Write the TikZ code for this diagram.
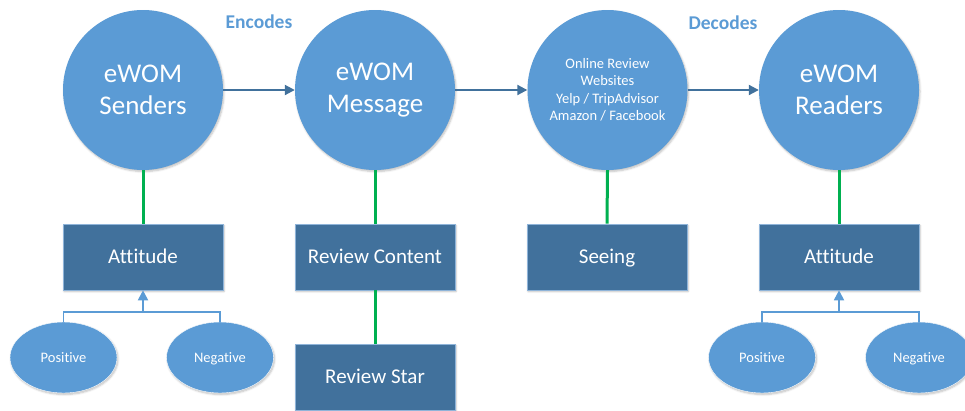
\documentclass[tikz,border=0pt]{standalone}
\usepackage{fontspec}
\setmainfont[Ligatures=NoCommon]{Carlito}
\usetikzlibrary{arrows.meta,shadows.blur,shapes.geometric}
\definecolor{circblue}{HTML}{5B9BD5}
\definecolor{boxblue}{HTML}{41719C}
\definecolor{arrblue}{HTML}{41719C}
\definecolor{grn}{HTML}{00B050}
\definecolor{edgeblue}{HTML}{8FB4D9}
\begin{document}
\begin{tikzpicture}[x=1pt,y=-1pt,
  bigcirc/.style={circle,fill=circblue,inner sep=0pt,minimum size=160pt,text=white,align=center,
    font=\fontsize{27}{32}\selectfont,blur shadow={shadow blur steps=5,shadow xshift=1pt,shadow yshift=-1.5pt,shadow opacity=25}},
  smallcirc/.style={bigcirc,font=\fontsize{14.5}{17.5}\selectfont},
  boxnode/.style={rectangle,fill=boxblue,draw=edgeblue,line width=0.6pt,minimum width=160pt,minimum height=66pt,
    inner sep=0pt,text=white,font=\fontsize{21}{24}\selectfont,text height=13.5pt,text depth=0pt,
    blur shadow={shadow blur steps=5,shadow xshift=1pt,shadow yshift=-1.5pt,shadow opacity=25}},
  ellnode/.style={ellipse,fill=circblue,draw=white,line width=0.4pt,minimum width=107pt,minimum height=71pt,
    inner sep=0pt,text=white,font=\fontsize{14.5}{17}\selectfont,text height=9.3pt,text depth=0pt,
    blur shadow={shadow blur steps=5,shadow xshift=1pt,shadow yshift=-1.5pt,shadow opacity=25}},
  mainarr/.style={draw=arrblue,line width=2pt,-{Triangle[length=10pt,width=10pt]}},
  grnline/.style={draw=grn,line width=3pt},
  lbarr/.style={draw=circblue,line width=1.8pt},
  lbl/.style={text=circblue,font=\fontsize{19.5}{22}\selectfont\bfseries}
]
\useasboundingbox (0,0) rectangle (965,410);
% circles
\node[bigcirc] (snd) at (143,90) {eWOM\\Senders};
\node[bigcirc] (msg) at (375,90) {eWOM\\Message};
\node[smallcirc] (web) at (607.5,90) {Online Review\\Websites\\Yelp / TripAdvisor\\Amazon / Facebook};
\node[bigcirc] (rdr) at (839,90) {eWOM\\Readers};
% labels
\node[lbl] (enc) at (259,22) {Encodes};
\node[lbl] (dec) at (723,23) {Decodes};
% boxes
\node[boxnode] (att1) at (143,257) {Attitude};
\node[boxnode] (rc) at (375,257) {Review Content};
\node[boxnode] (rs) at (375,377) {Review Star};
\node[boxnode] (see) at (607,257) {Seeing};
\node[boxnode] (att2) at (839,257) {Attitude};
% ellipses
\node[ellnode] (pos1) at (63.5,357.5) {Positive};
\node[ellnode] (neg1) at (220,357.5) {Negative};
\node[ellnode] (pos2) at (762,357.5) {Positive};
\node[ellnode] (neg2) at (919,357.5) {Negative};
% main arrows
\draw[mainarr] (snd.east) -- (msg.west);
\draw[mainarr] (msg.east) -- (web.west);
\draw[mainarr] (web.east) -- (rdr.west);
% green links
\draw[grnline] (snd.south) -- (att1.north);
\draw[grnline] (msg.south) -- (rc.north);
\draw[grnline] (rc.south) -- (rs.north);
\draw[grnline] (web.south) -- (see.north);
\draw[grnline] (rdr.south) -- (att2.north);
% attitude trees
\coordinate (j1) at (143,312);
\coordinate (j2) at (839,312);
\draw[lbarr] (pos1.north) |- (j1);
\draw[lbarr] (neg1.north) |- (j1);
\draw[lbarr,-{Triangle[length=10pt,width=10pt]}] (j1) -- (att1.south);
\draw[lbarr] (pos2.north) |- (j2);
\draw[lbarr] (neg2.north) |- (j2);
\draw[lbarr,-{Triangle[length=10pt,width=10pt]}] (j2) -- (att2.south);
\end{tikzpicture}
\end{document}
